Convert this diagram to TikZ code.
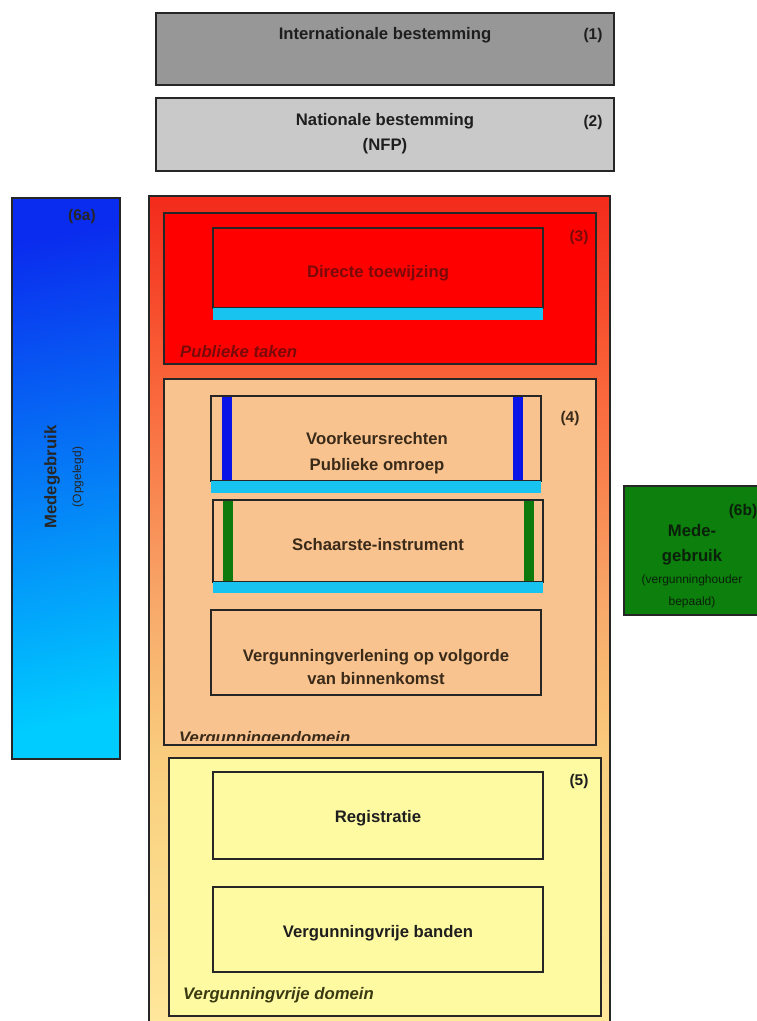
\documentclass[tikz,border=0pt]{standalone}
\usepackage{fontspec}
\setmainfont{Liberation Sans}
\definecolor{grayA}{HTML}{979797}
\definecolor{grayB}{HTML}{C9C9C9}
\definecolor{ogA}{HTML}{FFE89C}
\definecolor{ogB}{HTML}{F9CF7E}
\definecolor{ogC}{HTML}{F8A96A}
\definecolor{ogD}{HTML}{F96439}
\definecolor{ogE}{HTML}{F32A1B}
\definecolor{redB}{HTML}{FF0000}
\definecolor{cyanBar}{HTML}{18C3F0}
\definecolor{peach}{HTML}{F8C38E}
\definecolor{yellowB}{HTML}{FEFAA2}
\definecolor{blueBar}{HTML}{0A14E6}
\definecolor{greenBar}{HTML}{0E7A0E}
\definecolor{greenB}{HTML}{0C7F0C}
\definecolor{blueTop}{HTML}{0A2CEE}
\definecolor{blueBot}{HTML}{00CCFF}
\definecolor{txtRed}{HTML}{7A0A0A}
\definecolor{txtBrown}{HTML}{3A2A1A}
\definecolor{txtOlive}{HTML}{3A3A12}
\definecolor{txtDark}{HTML}{1E1E1E}
\definecolor{txtGreen}{HTML}{0A200A}
\pgfdeclareverticalshading{outergrad}{100bp}{color(0bp)=(ogA); color(25bp)=(ogA); color(40.9bp)=(ogB); color(50.5bp)=(ogC); color(63.9bp)=(ogD); color(75bp)=(ogE); color(100bp)=(ogE)}
\tikzset{
  boxline/.style={draw=black!85, line width=1.2pt},
  box/.style={boxline, inner sep=0pt, outer sep=0pt, anchor=north west},
  bar/.style={inner sep=0pt, outer sep=0pt, anchor=north west, draw=none},
  lbl/.style={font=\bfseries\fontsize{16.7}{24}\selectfont, inner sep=0pt, align=center, text=txtDark},
  num/.style={font=\bfseries\fontsize{15.5}{18}\selectfont, inner sep=0pt, text=txtDark},
  dom/.style={font=\bfseries\itshape\fontsize{16.7}{20}\selectfont, inner sep=0pt, anchor=base west},
  small/.style={font=\fontsize{12}{14}\selectfont, inner sep=0pt, text=txtGreen}
}
\begin{document}
\begin{tikzpicture}[x=1pt,y=-1pt]
\clip (0,0) rectangle (757,1021);
\fill[white] (0,0) rectangle (757,1021);

% (1) international
\node[box, fill=grayA, minimum width=458pt, minimum height=72pt] (b1) at (156,13) {};
\node[lbl] (t1) at (385,35) {Internationale bestemming};
\node[num] (n1) at (593,35) {(1)};

% (2) national
\node[box, fill=grayB, minimum width=458pt, minimum height=73pt] (b2) at (156,98) {};
\node[lbl, font=\bfseries\fontsize{16.7}{25}\selectfont] (t2) at (385,134) {Nationale bestemming\\(NFP)};
\node[num] (n2) at (593,122) {(2)};

% outer gradient frame
\node[box, shading=outergrad, minimum width=461pt, minimum height=835pt] (outer) at (149,196) {};

% (3) public tasks
\node[box, fill=redB, minimum width=432pt, minimum height=151pt] (b3) at (164,213) {};
\node[box, fill=redB, minimum width=330pt, minimum height=80pt] (dt) at (213,228) {};
\node[bar, fill=cyanBar, minimum width=330pt, minimum height=12pt] (dtbar) at (213,308) {};
\node[lbl, text=txtRed] (tdt) at (378,273) {Directe toewijzing};
\node[num, text=txtRed] (n3) at (579,237) {(3)};
\node[dom, text=txtRed] (pt) at (180,357) {Publieke taken};

% (4) licence domain
\node[box, fill=peach, minimum width=432pt, minimum height=366pt] (b4) at (164,379) {};
\node[box, fill=peach, minimum width=330pt, minimum height=85pt] (vk) at (211,396) {};
\node[bar, fill=blueBar, minimum width=10pt, minimum height=85pt] (vkl) at (222,396) {};
\node[bar, fill=blueBar, minimum width=10pt, minimum height=85pt] (vkr) at (513,396) {};
\draw[boxline] (vk.north west) rectangle (vk.south east);
\node[bar, fill=cyanBar, minimum width=330pt, minimum height=12pt] (vkbar) at (211,481) {};
\node[lbl, text=txtBrown, font=\bfseries\fontsize{16.7}{26}\selectfont] (tvk) at (377,453) {Voorkeursrechten\\Publieke omroep};

\node[box, fill=peach, minimum width=330pt, minimum height=82pt] (si) at (213,500) {};
\node[bar, fill=greenBar, minimum width=10pt, minimum height=82pt] (sil) at (223,500) {};
\node[bar, fill=greenBar, minimum width=10pt, minimum height=82pt] (sir) at (524,500) {};
\draw[boxline] (si.north west) rectangle (si.south east);
\node[bar, fill=cyanBar, minimum width=330pt, minimum height=11pt] (sibar) at (213,582) {};
\node[lbl, text=txtBrown] (tsi) at (378,545) {Schaarste-instrument};

\node[box, fill=peach, minimum width=330pt, minimum height=85pt] (vv) at (211,610) {};
\node[lbl, text=txtBrown, font=\bfseries\fontsize{16.7}{23}\selectfont] (tvv) at (376,667) {Vergunningverlening op volgorde\\van binnenkomst};
\node[num, text=txtBrown] (n4) at (570,418) {(4)};
\begin{scope}
\clip (164,379) rectangle (596,740);
\node[dom, text=txtBrown] (vd) at (179,743) {Vergunningendomein};
\end{scope}

% (5) licence-free domain
\node[box, fill=yellowB, minimum width=432pt, minimum height=258pt] (b5) at (169,758) {};
\node[box, fill=yellowB, minimum width=330pt, minimum height=87pt] (rg) at (213,772) {};
\node[lbl] (trg) at (378,818) {Registratie};
\node[box, fill=yellowB, minimum width=330pt, minimum height=85pt] (vb) at (213,887) {};
\node[lbl] (tvb) at (378,933) {Vergunningvrije banden};
\node[num] (n5) at (579,781) {(5)};
\node[dom, text=txtOlive] (vvd) at (183,999) {Vergunningvrije domein};

% (6a) shared use, imposed
\node[box, shading=axis, top color=blueTop, bottom color=blueBot, shading angle=12, minimum width=108pt, minimum height=561pt] (b6a) at (12,198) {};
\node[num, text=black!85] (n6a) at (82,216) {(6a)};
\node[lbl, rotate=90, text=black!85] (t6a) at (52,477) {Medegebruik};
\node[small, rotate=90, text=black!85] (s6a) at (78,477) {(Opgelegd)};

% (6b) shared use, licence holder decides
\node[box, fill=greenB, minimum width=140pt, minimum height=129pt] (b6b) at (624,486) {};
\node[num, text=txtGreen] (n6b) at (743,511) {(6b)};
\node[lbl, text=txtGreen] (t6b1) at (692,531) {Mede-};
\node[lbl, text=txtGreen] (t6b2) at (692,557) {gebruik};
\node[small] (s6b1) at (692,580) {(vergunninghouder};
\node[small] (s6b2) at (692,602) {bepaald)};
\end{tikzpicture}
\end{document}
